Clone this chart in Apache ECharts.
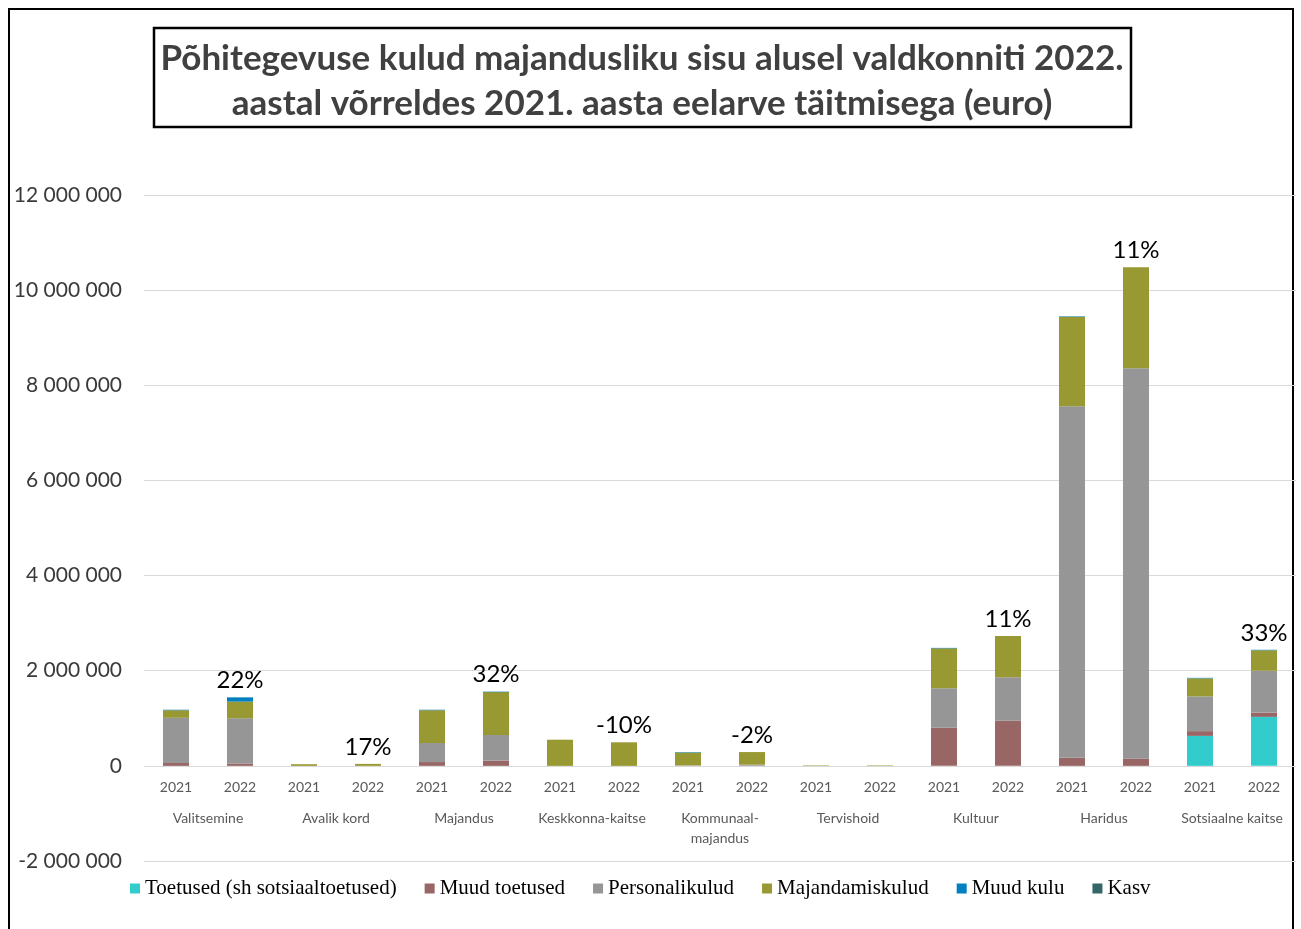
<!DOCTYPE html>
<html>
<head>
<meta charset="utf-8">
<script src="https://cdn.jsdelivr.net/npm/echarts@6/dist/echarts.min.js"></script>
<style>
  html, body { margin: 0; padding: 0; background: #fff; }
  #chart { width: 1301px; height: 929px; }
</style>
</head>
<body>
<div id="chart"></div>
<script>
// valdkonnad ja aastad
const valdkonnad = ['Valitsemine', 'Avalik kord', 'Majandus', 'Keskkonna-kaitse', 'Kommunaal-\nmajandus', 'Tervishoid', 'Kultuur', 'Haridus', 'Sotsiaalne kaitse'];
const aastad = ['2021', '2022'];

// kulud eurodes, järjekord: valdkond x (2021, 2022)
const toetused     = [0, 0, 0, 0, 0, 0, 0, 0, 0, 0, 0, 0, 0, 0, 0, 0, 630000, 1030000];
const muudToetused = [60000, 50000, 0, 0, 80000, 110000, 0, 0, 0, 5000, 0, 0, 800000, 950000, 170000, 150000, 100000, 90000];
const personal     = [950000, 950000, 0, 0, 400000, 540000, 0, 0, 10000, 20000, 0, 0, 830000, 910000, 7390000, 8210000, 730000, 880000];
const majandamis   = [160000, 350000, 35000, 41000, 690000, 900000, 550000, 495000, 270000, 265000, 10000, 10000, 840000, 870000, 1880000, 2120000, 380000, 430000];
const muudKulu     = [10000, 90000, 0, 0, 10000, 10000, 0, 0, 10000, 0, 0, 0, 10000, 0, 10000, 0, 10000, 10000];
// kasv 2021 -> 2022
const kasv = [null, 0.22, null, 0.17, null, 0.32, null, -0.10, null, -0.02, null, null, null, 0.11, null, 0.11, null, 0.33];

const yTicks = { min: -2000000, max: 12000000, interval: 2000000 };

const aastaKategooriad = [];
valdkonnad.forEach(() => aastad.forEach(a => aastaKategooriad.push(a)));

const chart = echarts.init(document.getElementById('chart'), null, { renderer: 'canvas' });

function bar(name, data, color) {
    return {
        name: name,
        type: 'bar',
        stack: 'kokku',
        data: data,
        barWidth: 26,
        itemStyle: { color: color },
        emphasis: { disabled: true }
    };
}

// nulljoon asub 2 000 000 võrra grid'i alumisest servast kõrgemal
const nullNihe = -95;

const option = {
    animation: false,
    backgroundColor: '#fff',
    graphic: [
        {
            type: 'rect',
            shape: { x: 9, y: 9, width: 1284, height: 940 },
            style: { fill: 'none', stroke: '#000', lineWidth: 2 },
            silent: true
        },
        {
            type: 'rect',
            shape: { x: 154, y: 28, width: 977, height: 99 },
            style: { fill: '#fff', stroke: '#000', lineWidth: 2.5 },
            silent: true
        },
        {
            type: 'text',
            x: 642,
            y: 36,
            style: {
                text: 'Põhitegevuse kulud majandusliku sisu alusel valdkonniti 2022.\naastal võrreldes 2021. aasta eelarve täitmisega (euro)',
                align: 'center',
                fill: '#404040',
                font: 'bold 35px Lato',
                lineHeight: 45
            },
            silent: true
        }
    ],
    legend: {
        left: 125,
        top: 873,
        icon: 'rect',
        itemWidth: 10,
        itemHeight: 10,
        itemGap: 28,
        textStyle: { fontFamily: 'Liberation Serif', fontSize: 21, color: '#000' },
        data: ['Toetused (sh sotsiaaltoetused)', 'Muud toetused', 'Personalikulud', 'Majandamiskulud', 'Muud kulu', 'Kasv']
    },
    grid: { left: 144, right: 5, top: 195, bottom: 68 },
    xAxis: [
        {
            type: 'category',
            position: 'bottom',
            offset: nullNihe,
            data: aastaKategooriad,
            axisLine: { show: false, onZero: false },
            axisTick: { show: false },
            axisLabel: { color: '#595959', fontFamily: 'Lato', fontSize: 14, margin: 14, interval: 0 }
        },
        {
            type: 'category',
            position: 'bottom',
            offset: nullNihe,
            data: valdkonnad,
            axisLine: { show: false, onZero: false },
            axisTick: { show: false },
            axisLabel: { color: '#595959', fontFamily: 'Lato', fontSize: 14, margin: 42, interval: 0, lineHeight: 20 }
        }
    ],
    yAxis: {
        type: 'value',
        min: yTicks.min,
        max: yTicks.max,
        interval: yTicks.interval,
        axisLabel: {
            color: '#3a3a3a',
            fontFamily: 'Lato',
            fontSize: 21,
            margin: 22,
            formatter: v => String(v).replace(/\B(?=(\d{3})+(?!\d))/g, ' ')
        },
        splitLine: { lineStyle: { color: '#D9D9D9', width: 1 } }
    },
    series: [
        bar('Toetused (sh sotsiaaltoetused)', toetused, '#33CCCC'),
        bar('Muud toetused', muudToetused, '#996666'),
        bar('Personalikulud', personal, '#969696'),
        bar('Majandamiskulud', majandamis, '#999933'),
        bar('Muud kulu', muudKulu, '#0080C0'),
        {
            name: 'Kasv',
            type: 'bar',
            stack: 'kokku',
            barWidth: 26,
            itemStyle: { color: '#336666' },
            data: kasv.map(k => (k === null ? null : 0)),
            label: {
                show: true,
                position: 'top',
                distance: 5,
                color: '#000',
                fontFamily: 'Lato',
                fontSize: 24,
                formatter: p => (kasv[p.dataIndex] === null ? '' : Math.round(kasv[p.dataIndex] * 100) + '%')
            },
            emphasis: { disabled: true }
        }
    ]
};

chart.setOption(option);
window.addEventListener('resize', chart.resize);
</script>
</body>
</html>
